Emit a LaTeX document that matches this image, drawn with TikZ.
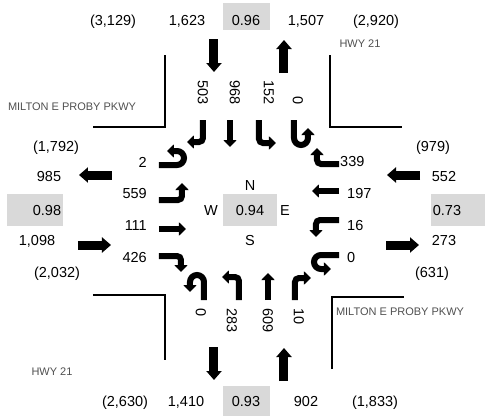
\documentclass[tikz,border=0pt]{standalone}
\usepackage{fontspec}
\setmainfont{Liberation Sans}
\usetikzlibrary{arrows.meta}
\definecolor{boxgray}{RGB}{217,217,217}
\definecolor{roadgray}{RGB}{80,80,80}
\newcommand\approachArrows{%
  \draw[turnarrow] (-46,90) -- (-46,68) -- (-62,68);
  \draw[turnarrow] (-19,90) -- (-19,63);
  \draw[turnarrow] (10,90) -- (10,67) -- (27,67);
  \draw[uarrow] (45,90) -- (45,72) arc[start angle=180,end angle=360,radius=7] -- (59,82);
  \draw[bigarrow] (-35,171) -- (-35,138);
  \draw[bigarrow] (35,137) -- (35,170);
}
\begin{document}
\begin{tikzpicture}[x=1pt,y=1pt,
  lab/.style={inner sep=0pt, font=\fontsize{14.5}{16}\selectfont, text height=10.4pt, text depth=0pt},
  road/.style={inner sep=0pt, font=\fontsize{11}{13}\selectfont, text=roadgray, text height=7.9pt, text depth=0pt},
  turnarrow/.style={line width=6pt, rounded corners=4pt, -{Triangle[width=13pt,length=7pt]}},
  uarrow/.style={line width=6pt, -{Triangle[width=13pt,length=7pt]}},
  bigarrow/.style={line width=9pt, -{Triangle[width=15pt,length=9pt]}},
  corner/.style={line width=1.3pt},
  graybox/.style={fill=boxgray}]
\useasboundingbox (-249,-206) rectangle (236,210);
% gray boxes
\fill[graybox] (-26,180) rectangle (21,207);
\fill[graybox] (-26,-206) rectangle (21,-176);
\fill[graybox] (-242,-16) rectangle (-186,16);
\fill[graybox] (182,-16) rectangle (236,16);
\fill[graybox] (-26,-16) rectangle (28,16);
% road corners
\draw[corner] (-84,155) -- (-84,83) -- (-156,83);
\draw[corner] (81,155) -- (81,83) -- (153,83);
\draw[corner] (-156,-85) -- (-84,-85) -- (-84,-150);
\draw[corner] (83,-159) -- (83,-87) -- (155,-87);
% arrows
\begin{scope}\approachArrows\end{scope}
\begin{scope}[rotate=180]\approachArrows\end{scope}
\begin{scope}[rotate=90]\approachArrows\end{scope}
\begin{scope}[rotate=-90]\approachArrows\end{scope}
% top row
\node[lab] (t1) at (-136,190) {(3,129)};
\node[lab] (t2) at (-62,190) {1,623};
\node[lab] (t3) at (-3,190) {0.96};
\node[lab] (t4) at (57,190) {1,507};
\node[lab] (t5) at (127,190) {(2,920)};
% bottom row
\node[lab] (b1) at (-124,-191) {(2,630)};
\node[lab] (b2) at (-63,-191) {1,410};
\node[lab] (b3) at (-3,-191) {0.93};
\node[lab] (b4) at (57,-191) {902};
\node[lab] (b5) at (126,-191) {(1,833)};
% road names
\node[road] (r1) at (111,166) {HWY 21};
\node[road] (r2) at (-197,-162) {HWY 21};
\node[road] (r3) at (-177,103) {MILTON E PROBY PKWY};
\node[road] (r4) at (151,-102) {MILTON E PROBY PKWY};
% left column
\node[lab] (l1) at (-193,64) {(1,792)};
\node[lab] (l2) at (-200,34) {985};
\node[lab] (l3) at (-202,0) {0.98};
\node[lab] (l4) at (-212,-30) {1,098};
\node[lab] (l5) at (-192,-62) {(2,032)};
\node[lab,anchor=east] (li1) at (-102,48) {2};
\node[lab,anchor=east] (li2) at (-102,17) {559};
\node[lab,anchor=east] (li3) at (-102,-15) {111};
\node[lab,anchor=east] (li4) at (-102,-47) {426};
% right column
\node[lab] (e1) at (184,64) {(979)};
\node[lab] (e2) at (195,34) {552};
\node[lab] (e3) at (198,0) {0.73};
\node[lab] (e4) at (195,-30) {273};
\node[lab] (e5) at (183,-62) {(631)};
\node[lab,anchor=west] (ri1) at (91,49) {339};
\node[lab,anchor=west] (ri2) at (98,17) {197};
\node[lab,anchor=west] (ri3) at (98,-15) {16};
\node[lab,anchor=west] (ri4) at (98,-47) {0};
% center
\node[lab] (cn) at (1,25) {N};
\node[lab] (cw) at (-38,0) {W};
\node[lab] (cc) at (1,0) {0.94};
\node[lab] (ce) at (36,0) {E};
\node[lab] (cs) at (1,-30) {S};
% rotated volumes
\node[lab,rotate=-90,anchor=east] (n1) at (-46,105) {503};
\node[lab,rotate=-90,anchor=east] (n2) at (-14,105) {968};
\node[lab,rotate=-90,anchor=east] (n3) at (20,105) {152};
\node[lab,rotate=-90,anchor=east] (n4) at (49,105) {0};
\node[lab,rotate=-90,anchor=west] (s1) at (-48,-98) {0};
\node[lab,rotate=-90,anchor=west] (s2) at (-17,-98) {283};
\node[lab,rotate=-90,anchor=west] (s3) at (19,-98) {609};
\node[lab,rotate=-90,anchor=west] (s4) at (50,-98) {10};
\end{tikzpicture}
\end{document}
